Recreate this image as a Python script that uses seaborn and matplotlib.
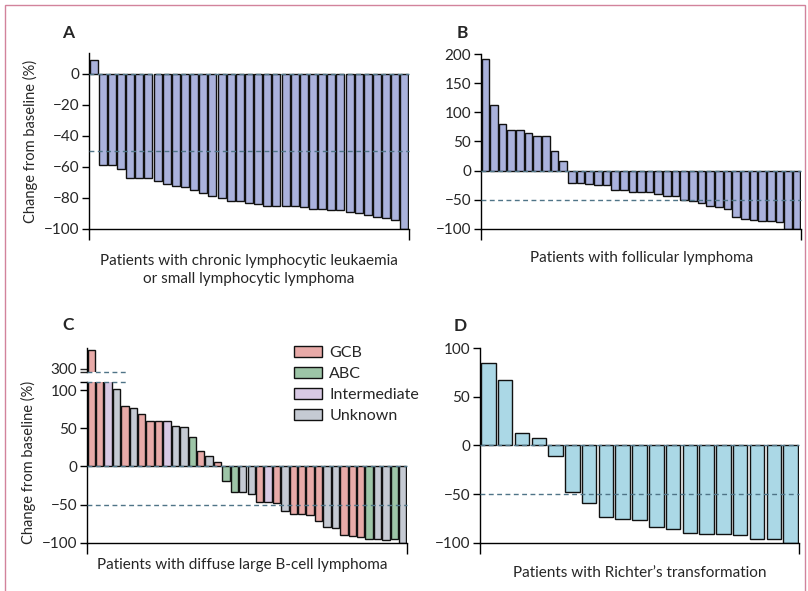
import matplotlib
matplotlib.use("Agg")
import matplotlib.pyplot as plt
from matplotlib.patches import Patch, Rectangle
import seaborn as sns
import pandas as pd

# ---- data ----
cll_values = [9, -59, -59, -61, -67, -67, -67, -69, -71, -72, -73, -75, -77, -79, -80,
              -82, -82, -83, -84, -85, -85, -85, -85, -86, -87, -87, -88, -88, -89, -90,
              -91, -92, -93, -94, -100]
fl_values = [192, 113, 80, 70, 70, 65, 60, 59, 33, 17,
             -21, -22, -23, -25, -25, -33, -33, -36, -36, -37, -40, -43, -43, -50, -52,
             -55, -60, -63, -66, -79, -83, -85, -86, -87, -88, -100, -100]
dlbcl_values = [325, 118, 118, 102, 79, 76, 69, 60, 60, 59, 53, 52, 39, 20, 14, 6,
                -19, -33, -34, -36, -46, -47, -48, -59, -62, -63, -64, -71, -79, -81,
                -90, -91, -93, -95, -95, -96, -95, -100]
dlbcl_subtype = ["GCB", "GCB", "Intermediate", "Unknown", "GCB", "Unknown", "GCB", "GCB",
                 "GCB", "Intermediate", "Unknown", "Unknown", "ABC", "GCB", "Unknown", "GCB",
                 "ABC", "ABC", "Unknown", "Unknown", "GCB", "Intermediate", "GCB", "Unknown",
                 "GCB", "GCB", "GCB", "GCB", "Unknown", "Unknown", "GCB", "GCB", "GCB",
                 "ABC", "Unknown", "Unknown", "ABC", "Unknown"]
richter_values = [85, 67, 13, 8, -11, -48, -59, -74, -76, -77, -84, -86, -90, -91, -91,
                  -92, -96, -96, -100]
subtype_order = ["GCB", "ABC", "Intermediate", "Unknown"]
subtype_colors = ["#e8aaa8", "#9dc5a7", "#d8c9e4", "#c5cad3"]

panel_titles = ["A", "B", "C", "D"]
xlabels = ["Patients with chronic lymphocytic leukaemia\nor small lymphocytic lymphoma",
           "Patients with follicular lymphoma",
           "Patients with diffuse large B-cell lymphoma",
           "Patients with Richter\u2019s transformation"]
ylabel = "Change from baseline (%)"

# ---- style ----
sns.set_style("ticks")
plt.rcParams["font.family"] = ["Lato", "DejaVu Sans"]
plt.rcParams["axes.unicode_minus"] = True
FS = 11
DASH = "#4f7487"
W, H = 808, 591

fig = plt.figure(figsize=(W / 100, H / 100), dpi=100)


def add_ax(l, t, r, b):
    return fig.add_axes([l / W, 1 - b / H, (r - l) / W, (b - t) / H])


def bars(ax, vals, color=None, hue=None, palette=None, width=0.88):
    df = pd.DataFrame({"x": list(range(len(vals))), "y": vals})
    if hue is None:
        sns.barplot(data=df, x="x", y="y", color=color, ax=ax, width=width,
                    edgecolor="#111111", linewidth=1.0, errorbar=None, saturation=1)
    else:
        df["h"] = hue
        sns.barplot(data=df, x="x", y="y", hue="h", hue_order=subtype_order,
                    palette=palette, dodge=False, ax=ax, width=width,
                    edgecolor="#111111", linewidth=1.0, errorbar=None,
                    saturation=1, legend=False)
    n = len(vals)
    ax.set_xlim(-0.5, n - 0.5)
    ax.set_xlabel("")
    ax.set_ylabel("")


def style(ax, yticks, ylim, n):
    ax.set_ylim(*ylim)
    ax.set_yticks(yticks)
    ax.set_yticklabels([f"{v}".replace("-", "\u2212") for v in yticks], fontsize=FS)
    ax.set_xticks([-0.5, n - 0.5])
    ax.set_xticklabels(["", ""])
    ax.tick_params(axis="x", length=8, width=1, direction="out", color="black")
    ax.tick_params(axis="y", length=5, width=1, direction="out", color="black", pad=2)
    for s in ["top", "right"]:
        ax.spines[s].set_visible(False)
    for s in ["left", "bottom"]:
        ax.spines[s].set_linewidth(1.0)
        ax.spines[s].set_color("black")


def dashes(ax, levels, xmax=1.0):
    for lv in levels:
        ax.axhline(lv, xmin=0, xmax=xmax, color=DASH, lw=1.0, ls=(0, (3.5, 2.5)),
                   zorder=5, clip_on=False)


# Panel A
axA = add_ax(89, 53, 409, 229)
bars(axA, cll_values, color="#aab2dc")
style(axA, [0, -20, -40, -60, -80, -100], (-100, 13.5), len(cll_values))
dashes(axA, [0, -50])
axA.set_ylabel(ylabel, fontsize=10.5, labelpad=4)

# Panel B
axB = add_ax(481, 54, 801, 229)
bars(axB, fl_values, color="#aab2dc")
style(axB, [200, 150, 100, 50, 0, -50, -100], (-100, 200), len(fl_values))
dashes(axB, [0, -50])

# Panel C (broken axis)
palette = dict(zip(subtype_order, subtype_colors))
axC = add_ax(87, 382, 407, 542.7)
bars(axC, dlbcl_values, hue=dlbcl_subtype, palette=palette)
style(axC, [-100, -50, 0, 50, 100], (-100, 110.7), len(dlbcl_values))
axC.set_yticks([-100, -50, 0, 50, 100, 110.7])
axC.set_yticklabels(["\u2212100", "\u221250", "0", "50", "100", ""], fontsize=FS)
dashes(axC, [0, -50])
dashes(axC, [110.7], xmax=0.128)
axC.set_ylabel(ylabel, fontsize=10.5, labelpad=4)

axCt = add_ax(87, 348, 407, 372)
bars(axCt, dlbcl_values, hue=dlbcl_subtype, palette=palette)
axCt.set_ylim(296, 327)
axCt.set_yticks([296, 300])
axCt.set_yticklabels(["", "300"], fontsize=FS)
axCt.set_xticks([])
axCt.tick_params(axis="y", length=5, width=1, direction="out", pad=2)
for s in ["top", "right", "bottom"]:
    axCt.spines[s].set_visible(False)
axCt.spines["left"].set_linewidth(1.0)
axCt.spines["left"].set_color("black")
axCt.patch.set_alpha(0)
dashes(axCt, [296], xmax=0.128)

handles = [Patch(facecolor=c, edgecolor="#111111", linewidth=1.0, label=l)
           for l, c in zip(subtype_order, subtype_colors)]
axC.legend(handles=handles, loc="upper left", bbox_to_anchor=(294 / W, 1 - 346 / H),
           bbox_transform=fig.transFigure, frameon=False, fontsize=11.5,
           handlelength=1.75, handleheight=0.7, handletextpad=0.45, labelspacing=0.42,
           borderpad=0, borderaxespad=0)

# Panel D
axD = add_ax(480, 348, 799, 542.7)
bars(axD, richter_values, color="#abd8e6", width=0.86)
style(axD, [100, 50, 0, -50, -100], (-100, 100), len(richter_values))
dashes(axD, [0, -50])

# Panel letters and x labels
for (px, py), t in zip([(68, 33), (462, 33), (68, 325), (460, 326)], panel_titles):
    fig.text(px / W, 1 - py / H, t, fontsize=12.5, fontweight="bold", ha="center", va="center")
for (px, py), t in zip([(249, 270), (642, 258), (242, 565), (640, 573)], xlabels):
    fig.text(px / W, 1 - py / H, t, fontsize=FS, ha="center", va="center", linespacing=1.45)

# figure frame
fig.add_artist(Rectangle((5 / W, -0.05), 800 / W, 1.05 - 5 / H, transform=fig.transFigure,
                         fill=False, edgecolor="#d2839c", linewidth=1.0))

fig.savefig("out.png", dpi=100)
